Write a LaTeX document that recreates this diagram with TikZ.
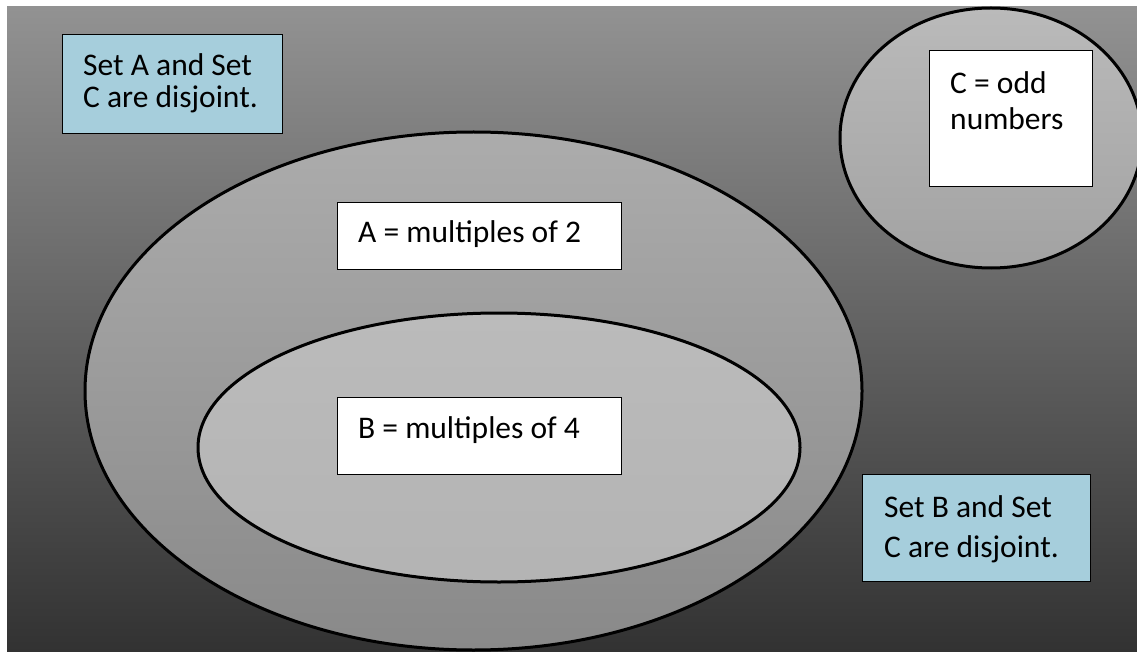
\documentclass[tikz,border=0pt]{standalone}
\usepackage{fontspec}
\setmainfont{Carlito}
\definecolor{bgtop}{RGB}{146,146,146}
\definecolor{bgbot}{RGB}{50,50,50}
\definecolor{atop}{RGB}{172,172,172}
\definecolor{abot}{RGB}{137,137,137}
\definecolor{bfill}{RGB}{187,187,187}
\definecolor{ctop}{RGB}{186,186,186}
\definecolor{cbot}{RGB}{162,162,162}
\definecolor{boxblue}{RGB}{166,206,220}
\begin{document}
\begin{tikzpicture}[x=1pt,y=-1pt,
  setline/.style={draw=black,line width=3pt},
  notebox/.style={draw=black,line width=0.9pt,fill=boxblue,inner sep=0pt},
  labelbox/.style={draw=black,line width=0.9pt,fill=white,inner sep=0pt},
  lbl/.style={inner sep=0pt,align=left,font=\fontsize{31.5}{32}\selectfont}]
\useasboundingbox (0,0) rectangle (1137,652);
\clip (0,0) rectangle (1137,652);
% background
\shade[top color=bgtop,bottom color=bgbot] (7,7) rectangle (1137,652);
% set A
\shade[top color=atop,bottom color=abot] (473.5,391) ellipse [x radius=388.5pt,y radius=259pt];
\draw[setline] (473.5,391) ellipse [x radius=388.5pt,y radius=259pt];
% set B
\shade[top color=bfill,bottom color=bfill!96!black] (499,447.5) ellipse [x radius=301pt,y radius=134.5pt];
\draw[setline] (499,447.5) ellipse [x radius=301pt,y radius=134.5pt];
% set C
\shade[top color=ctop,bottom color=cbot] (991,138) ellipse [x radius=151pt,y radius=130pt];
\draw[setline] (991,138) ellipse [x radius=151pt,y radius=130pt];
% boxes
\node[notebox,minimum width=220pt,minimum height=99pt] (boxAC) at (172,83.5) {};
\node[labelbox,minimum width=284pt,minimum height=67pt] (boxA) at (479,235.5) {};
\node[labelbox,minimum width=284pt,minimum height=77pt] (boxB) at (479,435.5) {};
\node[labelbox,minimum width=163pt,minimum height=136pt] (boxC) at (1010.5,118) {};
\node[notebox,minimum width=228pt,minimum height=107pt] (boxBC) at (976,527.5) {};
% texts (base anchor = baseline of the last line)
\node[lbl,anchor=base west] (txtAC) at (83,108) {Set A and Set\\C are disjoint.};
\node[lbl,anchor=base west] (txtA) at (358,243) {A = multiples of 2};
\node[lbl,anchor=base west] (txtB) at (358,438) {B = multiples of 4};
\node[lbl,anchor=base west,font=\fontsize{31.5}{36}\selectfont] (txtC) at (950,130) {C = odd\\numbers};
\node[lbl,anchor=base west,font=\fontsize{31.5}{40}\selectfont] (txtBC) at (884,557) {Set B and Set\\C are disjoint.};
\end{tikzpicture}
\end{document}
